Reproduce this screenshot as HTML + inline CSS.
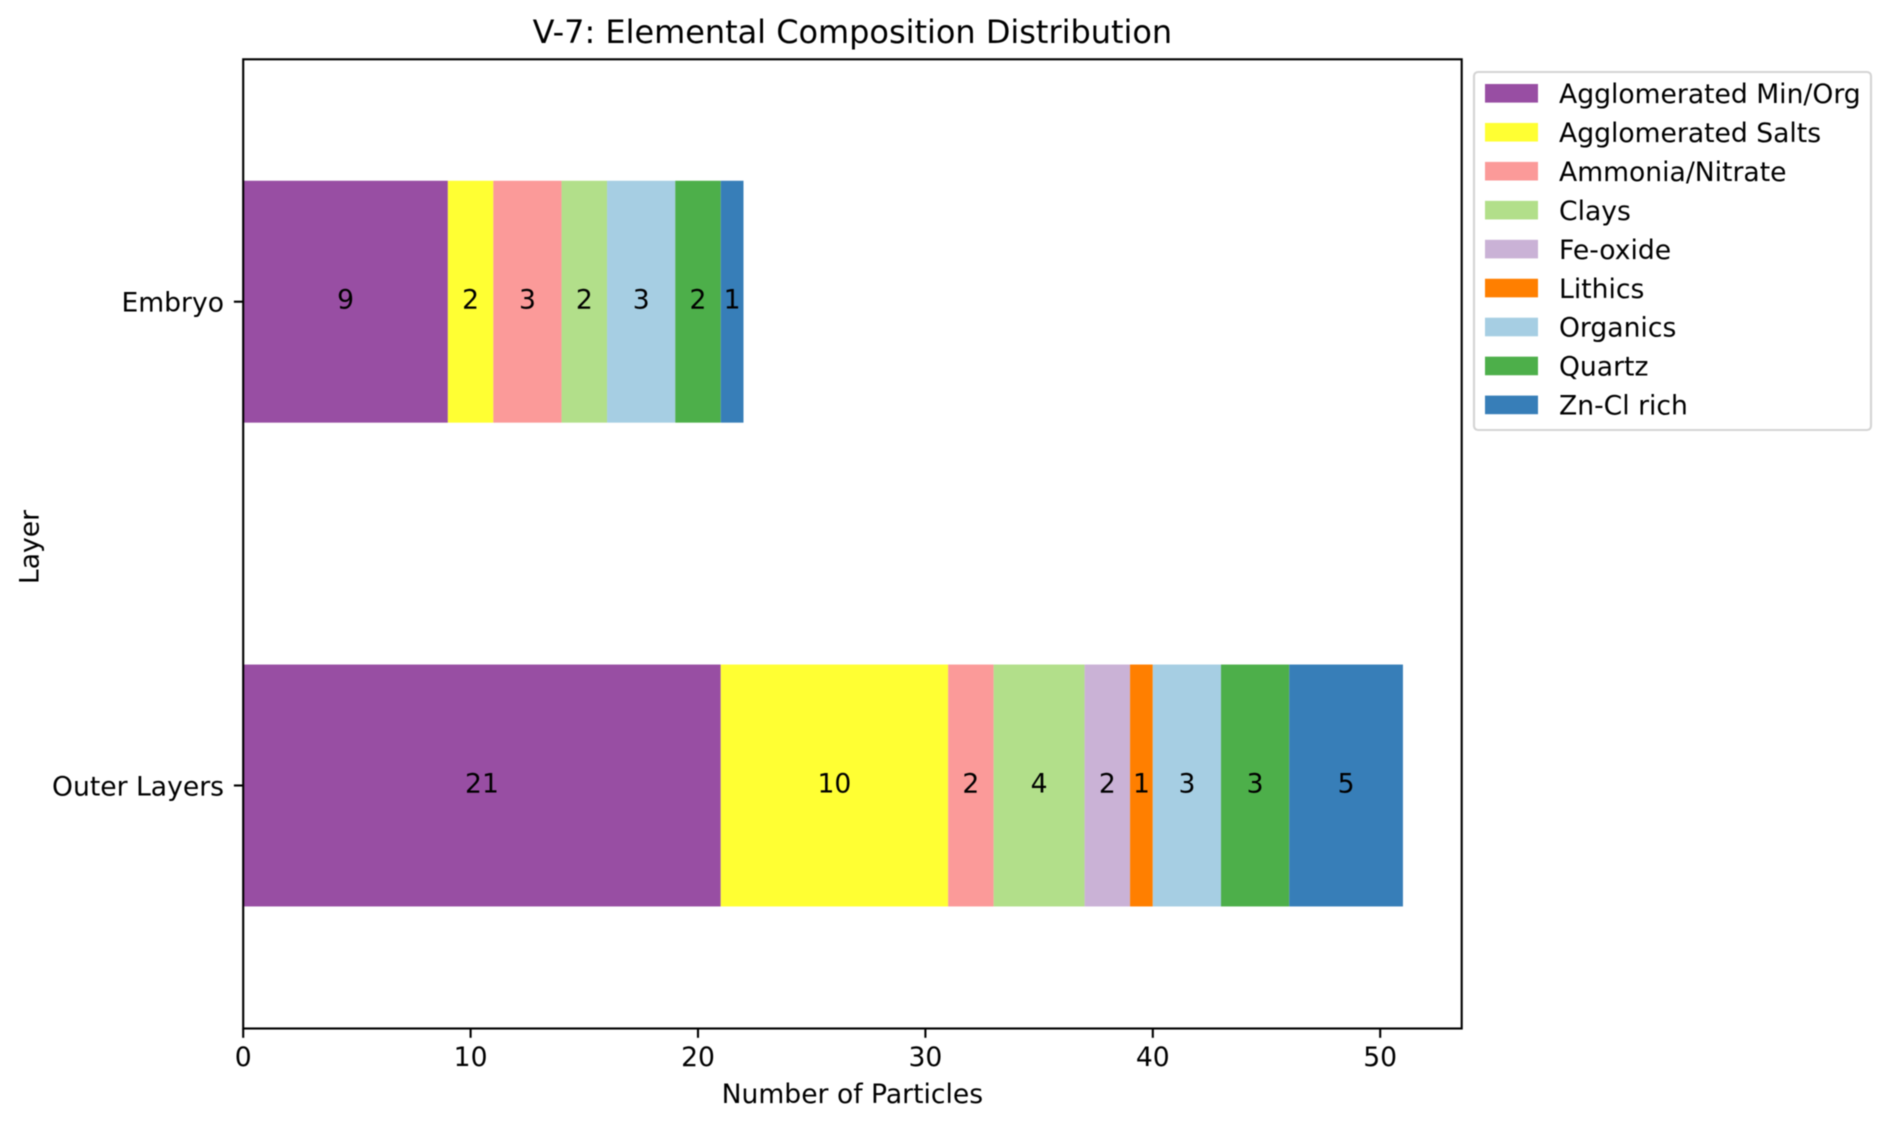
<!DOCTYPE html>
<html lang="en">
<head>
<meta charset="utf-8">
<title>V-7: Elemental Composition Distribution</title>
<style>
html,body{margin:0;padding:0;background:#fff;width:1892px;height:1123px;overflow:hidden}
svg{display:block;filter:blur(0.45px)}
text{font-family:"DejaVu Sans","Liberation Sans",sans-serif;fill:#000}
</style>
</head>
<body>
<svg id="chart" xmlns="http://www.w3.org/2000/svg" width="1892" height="1123" viewBox="0 0 1892 1123">
  <rect x="0" y="0" width="1892" height="1123" fill="#ffffff"/>
  <text x="852.4" y="43" font-size="31.95" text-anchor="middle">V-7: Elemental Composition Distribution</text>
  <g id="bars"></g>
  <g id="x-axis"></g>
  <g id="y-axis"></g>
  <rect x="243.2" y="59.3" width="1218.5" height="969.2" fill="none" stroke="#000" stroke-width="2.1"/>
  <text x="852.4" y="1103" font-size="26.6" text-anchor="middle">Number of Particles</text>
  <text transform="translate(38.5,547) rotate(-90)" font-size="26.6" text-anchor="middle">Layer</text>
  <g id="legend">
    <rect x="1474" y="72" width="397" height="358" rx="4" ry="4" fill="#fff" stroke="#d4d4d4" stroke-width="2.1"/>
  </g>
</svg>
<script>
const categories = ["Outer Layers", "Embryo"];
const seriesNames = ["Agglomerated Min/Org", "Agglomerated Salts", "Ammonia/Nitrate", "Clays", "Fe-oxide", "Lithics", "Organics", "Quartz", "Zn-Cl rich"];
const seriesColors = ["#984ea3", "#ffff33", "#fb9a99", "#b2df8a", "#cab2d6", "#ff7f00", "#a6cee3", "#4daf4a", "#377eb8"];
const agglomeratedMinOrg = [21, 9];
const agglomeratedSalts = [10, 2];
const ammoniaNitrate = [2, 3];
const clays = [4, 2];
const feOxide = [2, 0];
const lithics = [1, 0];
const organics = [3, 3];
const quartz = [3, 2];
const znClRich = [5, 1];
const xTickLabels = [0, 10, 20, 30, 40, 50];

const allSeries = [agglomeratedMinOrg, agglomeratedSalts, ammoniaNitrate, clays, feOxide, lithics, organics, quartz, znClRich];
const SVG_NS = "http://www.w3.org/2000/svg";
const FONT = 26.6;

function xScale(v) { return 243.2 + v * 22.74; }
function yScale(i) { return 785.5 - i * 483.8; }
const BAR_H = 483.8 * 0.5;

function make(tag, attrs, parent, txt) {
  const el = document.createElementNS(SVG_NS, tag);
  for (const k in attrs) el.setAttribute(k, attrs[k]);
  if (txt !== undefined) el.textContent = txt;
  parent.appendChild(el);
  return el;
}
function slug(s) { return String(s).toLowerCase().replace(/[^a-z0-9]+/g, "-"); }

const barsG = document.getElementById("bars");
const xAxisG = document.getElementById("x-axis");
const yAxisG = document.getElementById("y-axis");
const legendG = document.getElementById("legend");

categories.forEach(function (cat, c) {
  let run = 0;
  allSeries.forEach(function (vals, s) {
    const v = vals[c];
    if (!v) return;
    const seg = make("rect", {
      x: xScale(run), y: yScale(c) - BAR_H / 2,
      width: xScale(run + v) - xScale(run), height: BAR_H,
      fill: seriesColors[s]
    }, barsG);
    
    
    const lab = make("text", {
      x: xScale(run + v / 2), y: yScale(c) + 7,
      "font-size": FONT, "text-anchor": "middle"
    }, barsG, v);
    
    
    run += v;
  });

  const tick = make("line", {
    x1: 243.2 - 9.3, x2: 243.2, y1: yScale(c), y2: yScale(c),
    stroke: "#000", "stroke-width": 2.1
  }, yAxisG);
  
  
  const tl = make("text", {
    x: 224, y: yScale(c) + 9.8,
    "font-size": FONT, "text-anchor": "end"
  }, yAxisG, cat);
  
  
});

xTickLabels.forEach(function (t) {
  const tick = make("line", {
    x1: xScale(t), x2: xScale(t), y1: 1028.5, y2: 1037.8,
    stroke: "#000", "stroke-width": 2.1
  }, xAxisG);
  
  
  const tl = make("text", {
    x: xScale(t), y: 1066,
    "font-size": FONT, "text-anchor": "middle"
  }, xAxisG, t);
  
  
});

seriesNames.forEach(function (name, s) {
  const cy = 93.3 + s * 38.95;
  const sw = make("rect", {
    x: 1485, y: cy - 9.3, width: 53, height: 18.6, fill: seriesColors[s]
  }, legendG);
  
  
  const lt = make("text", {
    x: 1559, y: cy + 9.7, "font-size": FONT
  }, legendG, name);
  
  
});
</script>
</body>
</html>
